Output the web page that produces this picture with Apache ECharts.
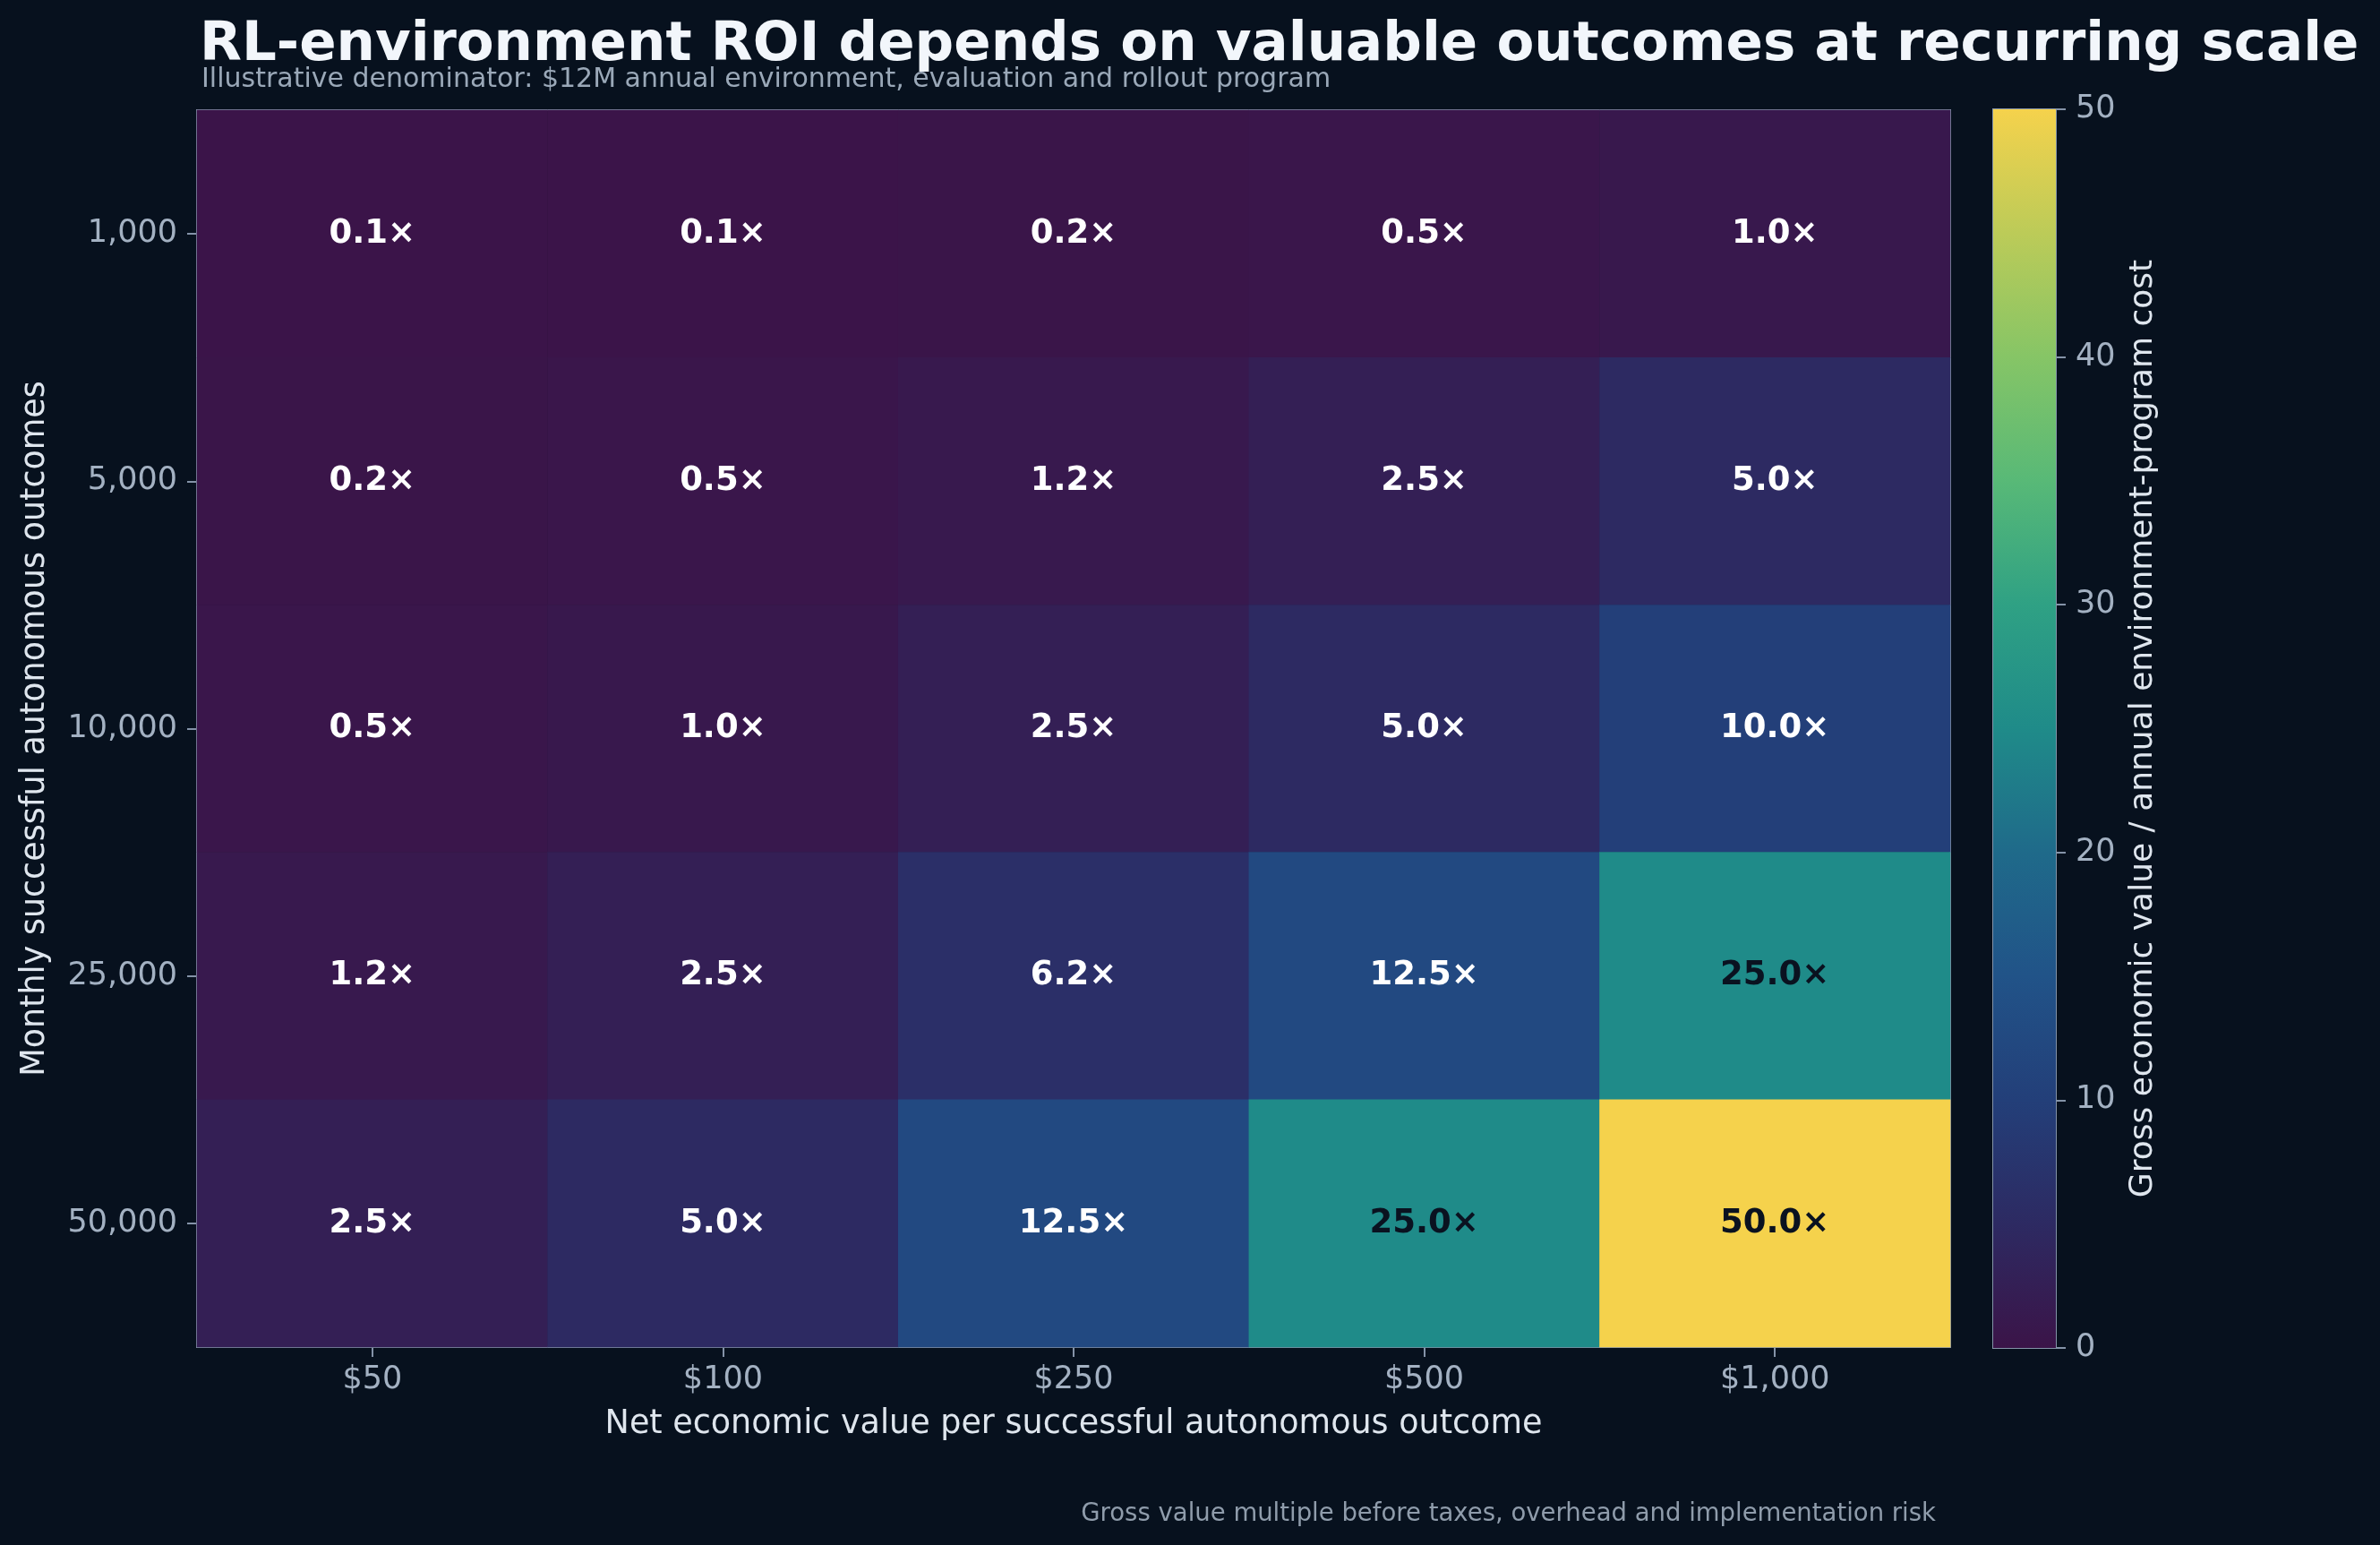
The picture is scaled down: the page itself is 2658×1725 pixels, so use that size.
<!DOCTYPE html>
<html>
<head>
<meta charset="utf-8">
<script src="https://cdn.jsdelivr.net/npm/echarts@6/dist/echarts.min.js"></script>
<style>
html,body{margin:0;padding:0;background:#07111e;}
#chart{width:2658px;height:1725px;}
</style>
</head>
<body>
<div id="chart"></div>
<script>
// ---- data ----
const valueCategories = ['$50', '$100', '$250', '$500', '$1,000'];
const volumeCategories = ['1,000', '5,000', '10,000', '25,000', '50,000'];
const row1000 = [0.1, 0.1, 0.2, 0.5, 1.0];
const row5000 = [0.2, 0.5, 1.2, 2.5, 5.0];
const row10000 = [0.5, 1.0, 2.5, 5.0, 10.0];
const row25000 = [1.2, 2.5, 6.2, 12.5, 25.0];
const row50000 = [2.5, 5.0, 12.5, 25.0, 50.0];
const colorbarTicks = [0, 10, 20, 30, 40, 50];

const rows = [row1000, row5000, row10000, row25000, row50000];
const palette = ['#3b1448', '#2d2a62', '#233f79', '#215388', '#1f6a8a', '#1f8b89',
                 '#2fa184', '#58b977', '#86c566', '#bccb58', '#f5d24c'];
const cmin = colorbarTicks[0], cmax = colorbarTicks[colorbarTicks.length - 1];

const heatData = [];
rows.forEach((r, yi) => r.forEach((v, xi) => {
  heatData.push({
    value: [xi, yi, v],
    label: { color: v >= 20 ? '#0a1220' : '#ffffff' }
  });
}));

const FONT = 'DejaVu Sans';
const tickColor = '#a3b1c2';
const nameColor = '#dfe6ee';
const borderColor = '#8493a8';

const chart = echarts.init(document.getElementById('chart'));
const gradStops = palette.map((c, i) => ({ offset: i / (palette.length - 1), color: c }));

chart.setOption({
  backgroundColor: '#07111e',
  animation: false,
  textStyle: { fontFamily: FONT },
  title: [
    { text: 'RL-environment ROI depends on valuable outcomes at recurring scale',
      left: 218, top: 16,
      textStyle: { fontFamily: FONT, fontSize: 61, fontWeight: 'bold', color: '#f2f6fb' } },
    { text: 'Illustrative denominator: $12M annual environment, evaluation and rollout program',
      left: 220, top: 69,
      textStyle: { fontFamily: FONT, fontSize: 30, fontWeight: 'normal', color: '#9aa8b8' } },
    { text: 'Gross value multiple before taxes, overhead and implementation risk',
      right: 491, top: 1672,
      textStyle: { fontFamily: FONT, fontSize: 27.5, fontWeight: 'normal', color: '#8f9cab' } }
  ],
  grid: [
    { left: 220, right: 480, top: 123, bottom: 221, show: true,
      borderColor: borderColor, borderWidth: 2, backgroundColor: 'transparent' },
    { left: 2226, width: 70, top: 122, bottom: 220, show: true,
      borderColor: borderColor, borderWidth: 2, backgroundColor: 'transparent' }
  ],
  xAxis: [
    { type: 'category', gridIndex: 0, data: valueCategories,
      name: 'Net economic value per successful autonomous outcome',
      nameLocation: 'middle', nameGap: 68,
      nameTextStyle: { fontFamily: FONT, fontSize: 36.5, color: nameColor },
      axisLine: { show: true, lineStyle: { color: borderColor, width: 2 } },
      axisTick: { show: true, alignWithLabel: true, length: 11, lineStyle: { color: borderColor, width: 2 } },
      axisLabel: { fontFamily: FONT, fontSize: 35, color: tickColor, margin: 19 },
      splitLine: { show: false } },
    { type: 'category', gridIndex: 1, data: ['cb'], show: false }
  ],
  yAxis: [
    { type: 'category', gridIndex: 0, data: volumeCategories, inverse: true,
      name: 'Monthly successful autonomous outcomes',
      nameLocation: 'middle', nameGap: 162, nameRotate: 90,
      nameTextStyle: { fontFamily: FONT, fontSize: 36.5, color: nameColor },
      axisLine: { show: true, lineStyle: { color: borderColor, width: 2 } },
      axisTick: { show: true, alignWithLabel: true, length: 11, lineStyle: { color: borderColor, width: 2 } },
      axisLabel: { fontFamily: FONT, fontSize: 35, color: tickColor, margin: 22 },
      splitLine: { show: false } },
    { type: 'value', gridIndex: 1, position: 'right', min: cmin, max: cmax, interval: 10,
      name: 'Gross economic value / annual environment-program cost',
      nameLocation: 'middle', nameGap: 80, nameRotate: 90,
      nameTextStyle: { fontFamily: FONT, fontSize: 36, color: nameColor },
      axisLine: { show: true, lineStyle: { color: borderColor, width: 2 } },
      axisTick: { show: true, length: 11, lineStyle: { color: borderColor, width: 2 } },
      axisLabel: { fontFamily: FONT, fontSize: 35, color: tickColor, margin: 22 },
      splitLine: { show: false } }
  ],
  visualMap: {
    show: false, type: 'continuous', min: cmin, max: cmax, seriesIndex: 0,
    inRange: { color: palette }
  },
  series: [
    { type: 'heatmap', xAxisIndex: 0, yAxisIndex: 0, data: heatData,
      itemStyle: { borderWidth: 0 },
      emphasis: { disabled: true },
      label: { show: true, fontFamily: FONT, fontSize: 37, fontWeight: 'bold',
        formatter: p => p.value[2].toFixed(1) + '\u00d7' } },
    { type: 'bar', xAxisIndex: 1, yAxisIndex: 1, data: [cmax], barWidth: '100%',
      silent: true,
      itemStyle: { color: new echarts.graphic.LinearGradient(0, 1, 0, 0, gradStops) } }
  ]
});
</script>
</body>
</html>
